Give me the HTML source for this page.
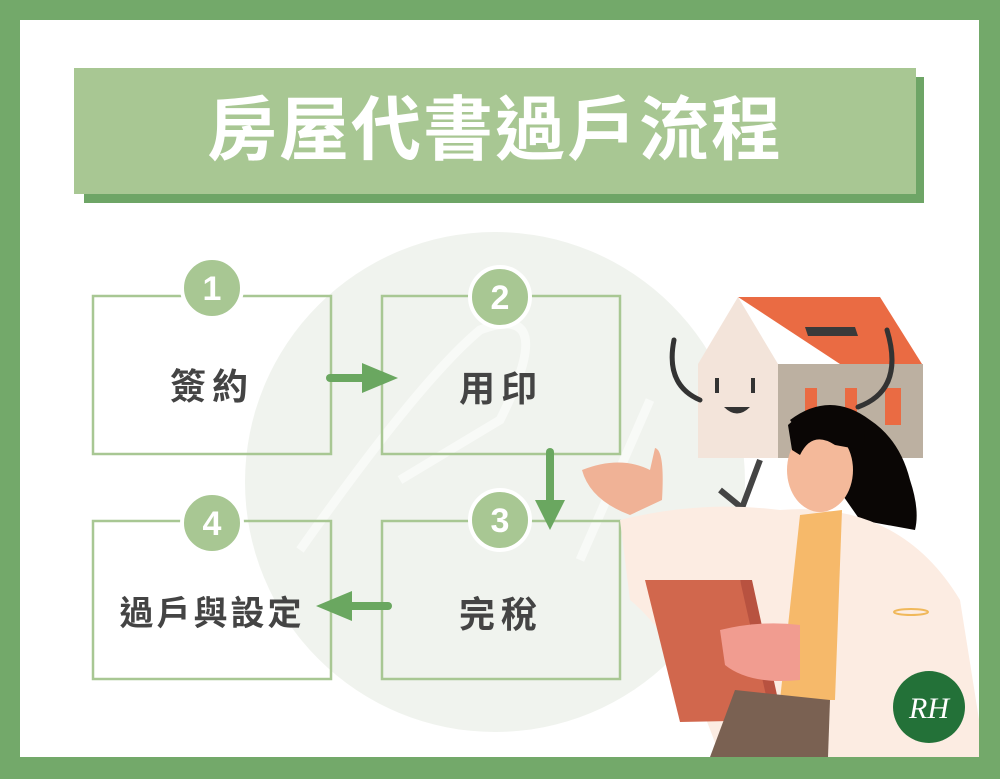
<!DOCTYPE html>
<html><head><meta charset="utf-8"><style>
html,body{margin:0;padding:0;}
body{width:1000px;height:779px;position:relative;overflow:hidden;background:#73a96a;font-family:"Liberation Sans","Noto Sans CJK TC",sans-serif;}
.in{position:absolute;left:20px;top:20px;width:959px;height:737px;background:#fff;overflow:hidden;}
.t{position:absolute;font-weight:bold;}
</style></head><body>
<div class="in"></div>
<svg style="position:absolute;left:0;top:0" width="1000" height="779">
<defs><clipPath id="c"><rect x="20" y="20" width="959" height="737"/></clipPath></defs>
<g clip-path="url(#c)">
<circle cx="495" cy="482" r="250" fill="#f0f3ee"/>
<rect x="84" y="77" width="840" height="126" fill="#6ea566"/>
<rect x="74" y="68" width="842" height="126" fill="#a8c793"/>
<!-- watermark strokes -->
<path d="M300 550 Q420 380 480 330 Q560 300 500 420 L400 480" fill="none" stroke="#fff" stroke-width="9" opacity=".55"/>
<path d="M580 560 L650 400" fill="none" stroke="#fff" stroke-width="9" opacity=".55"/>
<!-- boxes -->
<g fill="none" stroke="#a8c793" stroke-width="2.5">
<rect x="93" y="296" width="238" height="158"/>
<rect x="382" y="296" width="238" height="158"/>
<rect x="93" y="521" width="238" height="158"/>
<rect x="382" y="521" width="238" height="158"/>
</g>
<g fill="#a8c793" stroke="#fff" stroke-width="4">
<circle cx="212" cy="288" r="30"/>
<circle cx="500" cy="297" r="30"/>
<circle cx="500" cy="520" r="30"/>
<circle cx="212" cy="523" r="30"/>
</g>
<g fill="#fff" font-weight="bold" font-size="34" text-anchor="middle" font-family="Liberation Sans,sans-serif">
<text x="212" y="300">1</text><text x="500" y="309">2</text><text x="500" y="532">3</text><text x="212" y="535">4</text>
</g>
<!-- arrows -->
<g stroke="#6aa760" stroke-width="8" stroke-linecap="round" fill="#6aa760">
<line x1="330" y1="378" x2="370" y2="378"/>
<line x1="550" y1="452" x2="550" y2="505"/>
<line x1="388" y1="606" x2="345" y2="606"/>
</g>
<g fill="#6aa760">
<polygon points="362,363 398,378 362,393"/>
<polygon points="535,500 565,500 550,530"/>
<polygon points="352,591 316,606 352,621"/>
</g>
<!-- illustration -->
<polygon points="738,297 880,297 922,364 840,364" fill="#ea6b43"/>
<polygon points="698,364 738,297 778,364 778,458 698,458" fill="#f3e4da"/>
<rect x="778" y="364" width="145" height="94" fill="#bcb0a1"/>
<polygon points="805,327 855,327 858,336 808,336" fill="#3a3a3a"/>
<rect x="805" y="388" width="12" height="37" fill="#ea6b43"/>
<rect x="845" y="388" width="12" height="37" fill="#ea6b43"/>
<rect x="885" y="388" width="16" height="37" fill="#ea6b43"/>
<path d="M674 340 Q665 385 700 400" fill="none" stroke="#333" stroke-width="5" stroke-linecap="round"/>
<path d="M887 330 Q905 390 858 407" fill="none" stroke="#333" stroke-width="5" stroke-linecap="round"/>
<line x1="717" y1="378" x2="717" y2="393" stroke="#333" stroke-width="4"/>
<line x1="753" y1="378" x2="753" y2="393" stroke="#333" stroke-width="4"/>
<path d="M724 407 Q737 420 750 407 Z" fill="#333"/>
<path d="M720 490 L742 508 L760 460" fill="none" stroke="#444" stroke-width="6"/>
<!-- hair back -->
<path d="M790 420 Q830 390 870 420 Q900 440 910 480 Q920 510 915 530 L860 520 Z" fill="#0a0605"/>
<!-- body -->
<path d="M620 520 Q700 500 780 510 Q900 500 960 600 L985 757 L720 757 Q680 640 630 600 Z" fill="#fcece2"/>
<polygon points="800,515 842,510 835,700 780,700" fill="#f6b96a"/>
<ellipse cx="820" cy="470" rx="33" ry="42" fill="#f4b99a"/>
<path d="M788 425 Q820 395 855 415 Q870 430 862 450 L835 445 Q812 430 800 455 L792 450 Z" fill="#0a0605"/>
<path d="M582 470 Q620 455 650 470 L655 448 Q665 450 662 500 L630 515 Q590 500 582 470 Z" fill="#f0b296"/>
<polygon points="645,580 740,580 780,720 680,722" fill="#d1674d"/>
<polygon points="740,580 752,580 782,718 772,722" fill="#b85240"/>
<path d="M720 630 Q760 620 800 625 L800 680 Q750 685 725 665 Z" fill="#f19c90"/>
<polygon points="735,690 830,700 828,757 710,757" fill="#7a6152"/>
<ellipse cx="911" cy="612" rx="17" ry="3" fill="none" stroke="#f0b85a" stroke-width="2"/>
<circle cx="929" cy="707" r="36" fill="#237138"/>
<text x="929" y="718" fill="#fff" font-size="30" font-style="italic" text-anchor="middle" font-family="Liberation Serif,serif">RH</text>
</g>
</svg>
<div class="t" style="left:74px;top:88px;width:842px;text-align:center;color:#fff;font-size:70px;letter-spacing:2px;line-height:84px">房屋代書過戶流程</div>
<div class="t" style="left:93px;top:358px;width:238px;text-align:center;color:#444;font-size:36px;letter-spacing:6px">簽約</div>
<div class="t" style="left:382px;top:360px;width:238px;text-align:center;color:#444;font-size:36px;letter-spacing:6px">用印</div>
<div class="t" style="left:382px;top:586px;width:238px;text-align:center;color:#444;font-size:36px;letter-spacing:6px">完稅</div>
<div class="t" style="left:93px;top:586px;width:238px;text-align:center;color:#444;font-size:34px;letter-spacing:3px">過戶與設定</div>
</body></html>
